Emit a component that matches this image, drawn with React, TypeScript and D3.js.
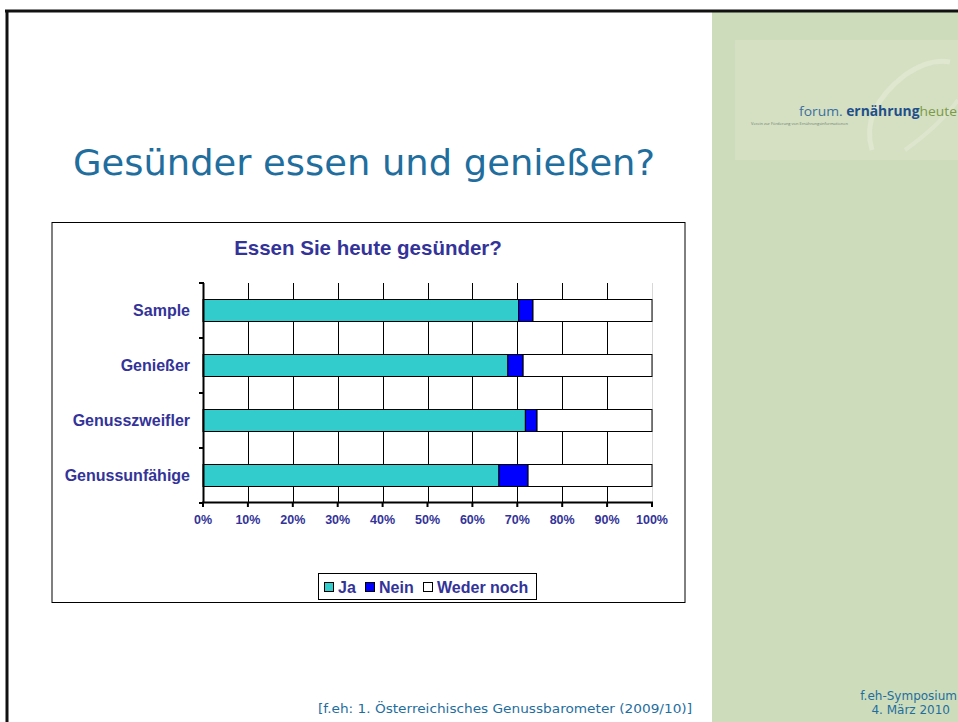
import React from "react";
import * as d3 from "d3";

const categories = ["Sample", "Genießer", "Genusszweifler", "Genussunfähige"];
const seriesNames = ["Ja", "Nein", "Weder noch"];
const ja = [70.3, 67.9, 71.8, 65.9];
const nein = [3.2, 3.4, 2.6, 6.5];
const weder = [26.5, 28.7, 25.6, 27.6];
const xTicks = [0, 10, 20, 30, 40, 50, 60, 70, 80, 90, 100];
const seriesColors = ["#33cccc", "#0000ff", "#ffffff"];

const W = 958;
const H = 722;
const LABEL = "#333399";
const TITLE_BLUE = "#1f6e9e";

export default function App() {
  const x = d3.scaleLinear().domain([0, 100]).range([203, 652]);
  const y = d3.scaleBand().domain(categories).range([283, 503]).paddingInner(0.6).paddingOuter(0.3);
  const yOuter = d3.scaleBand().domain(categories).range([283, 503]);

  const rows = categories.map((c, i) => ({ cat: c, Ja: ja[i], Nein: nein[i], "Weder noch": weder[i] }));
  const stacked = d3.stack<any>().keys(seriesNames)(rows);

  const legendItems = [
    { name: "Ja", sx: 324, tx: 338 },
    { name: "Nein", sx: 365, tx: 379 },
    { name: "Weder noch", sx: 423, tx: 437 },
  ];

  return (
    <div style={{ position: "absolute", left: 0, top: 0 }}>
      <svg width={W} height={H} style={{ display: "block" }} fontFamily="'Liberation Sans', Arial, sans-serif">
        <rect x={0} y={0} width={W} height={H} fill="#ffffff" />
        {/* green side panel */}
        <rect x={712} y={11} width={W - 712} height={H - 11} fill="#cddcbb" />
        <rect x={735} y={40} width={W - 735} height={120} fill="#d5e0c2" />
        <path d="M872,150 Q 860,110 905,75 Q 930,58 950,62" fill="none" stroke="#e2e9d3" strokeWidth={5} opacity={0.7} />
        <path d="M905,150 Q 940,125 958,100" fill="none" stroke="#e2e9d3" strokeWidth={4} opacity={0.6} />
        <text x={957} y={116} fontSize={13.5} textAnchor="end" fontFamily="'Open Sans', sans-serif"
          textLength={158} lengthAdjust="spacingAndGlyphs">
          <tspan fill="#3a6f9e">forum. </tspan>
          <tspan fill="#1f4f8a" fontWeight="bold">ernährung</tspan>
          <tspan fill="#7a9a48">heute</tspan>
        </text>
        <text x={751} y={125} fontSize={4} fill="#6b7f70" fontFamily="'Open Sans', sans-serif">
          Verein zur Förderung von Ernährungsinformationen
        </text>

        {/* slide border */}
        <line x1={5} x2={W} y1={11} y2={11} stroke="#111" strokeWidth={3} />
        <line x1={7} x2={7} y1={10} y2={H} stroke="#111" strokeWidth={3} />

        {/* slide title */}
        <text x={73} y={175} fontSize={36} fill={TITLE_BLUE} textLength={582} lengthAdjust="spacingAndGlyphs"
          fontFamily="'DejaVu Sans', sans-serif">
          Gesünder essen und genießen?
        </text>

        {/* chart box */}
        <rect x={52} y={222.5} width={633} height={380} fill="#ffffff" stroke="#000" strokeWidth={1} />
        <text x={368} y={255} fontSize={20.5} fontWeight="bold" fill={LABEL} textAnchor="middle">
          Essen Sie heute gesünder?
        </text>

        {/* gridlines */}
        {xTicks.filter((t) => t > 0).map((t) => (
          <line key={"g" + t} x1={Math.round(x(t)) + 0.5} x2={Math.round(x(t)) + 0.5} y1={283} y2={503}
            stroke={t === 100 ? "#d8d8d8" : "#000"} strokeWidth={1} />
        ))}

        {/* bars */}
        {stacked.map((s, si) =>
          s.map((d: any, i: number) => (
            <rect key={seriesNames[si] + i} x={x(d[0])} y={y(categories[i])!} width={x(d[1]) - x(d[0])}
              height={y.bandwidth()} fill={seriesColors[si]} stroke="#000" strokeWidth={1} />
          ))
        )}

        {/* y axis */}
        <line x1={203.5} x2={203.5} y1={283} y2={503} stroke="#000" strokeWidth={2} />
        {categories.map((c, i) => (
          <line key={"yt" + i} x1={199} x2={204} y1={yOuter(c)!} y2={yOuter(c)!} stroke="#000" strokeWidth={2} />
        ))}
        <line x1={199} x2={204} y1={503} y2={503} stroke="#000" strokeWidth={2} />
        {categories.map((c) => (
          <text key={"yl" + c} x={190} y={y(c)! + y.bandwidth() / 2 + 5.5} fontSize={16} fontWeight="bold"
            fill={LABEL} textAnchor="end">
            {c}
          </text>
        ))}

        {/* x axis */}
        <line x1={202} x2={653} y1={502.5} y2={502.5} stroke="#000" strokeWidth={2} />
        {xTicks.map((t) => (
          <g key={"xt" + t}>
            <line x1={x(t)} x2={x(t)} y1={502} y2={507} stroke="#000" strokeWidth={2} />
            <text x={x(t)} y={524} fontSize={12.5} fontWeight="bold" fill={LABEL} textAnchor="middle">
              {t + "%"}
            </text>
          </g>
        ))}

        {/* legend */}
        <rect x={318.5} y={573.5} width={218} height={26} fill="#fff" stroke="#000" strokeWidth={1} />
        {legendItems.map((it, i) => (
          <g key={"lg" + it.name}>
            <rect x={it.sx + 0.5} y={582.5} width={9} height={9} fill={seriesColors[i]} stroke="#000" strokeWidth={1} />
            <text x={it.tx} y={592.5} fontSize={16} fontWeight="bold" fill={LABEL}>
              {it.name}
            </text>
          </g>
        ))}

        {/* footer */}
        <text x={318} y={713} fontSize={12} fill={TITLE_BLUE} fontFamily="'DejaVu Sans', sans-serif"
          textLength={374} lengthAdjust="spacingAndGlyphs">
          [f.eh: 1. Österreichisches Genussbarometer (2009/10)]
        </text>
        <text x={957} y={700} fontSize={12} fill={TITLE_BLUE} textAnchor="end" fontFamily="'DejaVu Sans', sans-serif">
          f.eh-Symposium
        </text>
        <text x={950} y={714} fontSize={12} fill={TITLE_BLUE} textAnchor="end" fontFamily="'DejaVu Sans', sans-serif">
          4. März 2010
        </text>
      </svg>
    </div>
  );
}
